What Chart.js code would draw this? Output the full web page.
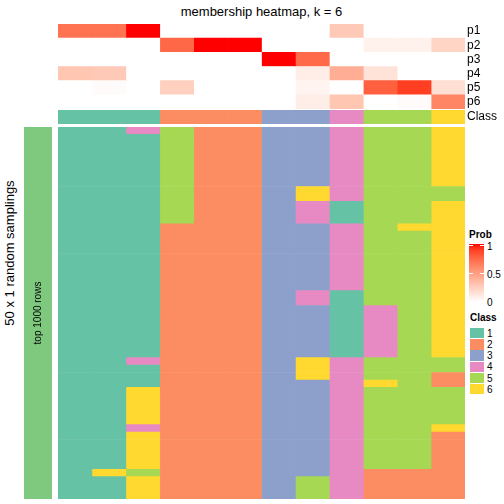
<!DOCTYPE html>
<html>
<head>
<meta charset="utf-8">
<script src="https://cdn.jsdelivr.net/npm/chart.js@4"></script>
<style>
  html, body { margin:0; padding:0; background:#fff; }
  #wrap { position:relative; width:504px; height:504px; background:#fff; overflow:hidden;
          font-family:'Liberation Sans', Arial, Helvetica, sans-serif; color:#000; }
  canvas { position:absolute; }
  .txt { position:absolute; white-space:nowrap; }
</style>
</head>
<body>
<div id="wrap">
  <canvas id="probChart" width="446" height="85" style="left:58px;top:24px;"></canvas>
  <canvas id="classChart" width="446" height="14" style="left:58px;top:110px;"></canvas>
  <canvas id="rowAnno" width="28" height="372" style="left:24px;top:127px;"></canvas>
  <canvas id="mainChart" width="407" height="372" style="left:58px;top:127px;"></canvas>
</div>
<script>
// ---------------- DATA ----------------
const chartTitle = 'membership heatmap, k = 6';
const probRowLabels = ['p1', 'p2', 'p3', 'p4', 'p5', 'p6'];
// membership probabilities for the 12 consensus columns
const p1 = [0.70, 0.70, 1.00, 0, 0, 0, 0, 0, 0.28, 0, 0, 0];
const p2 = [0, 0, 0, 0.75, 1.00, 1.00, 0, 0, 0, 0.07, 0.07, 0.22];
const p3 = [0, 0, 0, 0, 0, 0, 1.00, 0.74, 0, 0, 0, 0];
const p4 = [0.30, 0.28, 0, 0, 0, 0, 0, 0.09, 0.42, 0.15, 0, 0];
const p5 = [0, 0.02, 0, 0.25, 0, 0, 0, 0.06, 0, 0.78, 0.90, 0.17];
const p6 = [0, 0, 0, 0, 0, 0, 0, 0.09, 0.30, 0, 0.02, 0.62];
const consensusClass = [1, 1, 1, 2, 2, 2, 3, 3, 4, 5, 5, 6];
const classLabels = ['1', '2', '3', '4', '5', '6'];
const rowGroupLabel = 'top 1000 rows';
const sideTitle = '50 x 1 random samplings';
const probTicks = [1, 0.5, 0];
// class assigned in each of the 50 samplings (rows) for the 12 columns
const samplingClasses = [
  [1,1,4,5,2,2,3,3,4,5,5,6],
  [1,1,1,5,2,2,3,3,4,5,5,6],
  [1,1,1,5,2,2,3,3,4,5,5,6],
  [1,1,1,5,2,2,3,3,4,5,5,6],
  [1,1,1,5,2,2,3,3,4,5,5,6],
  [1,1,1,5,2,2,3,3,4,5,5,6],
  [1,1,1,5,2,2,3,3,4,5,5,6],
  [1,1,1,5,2,2,3,3,4,5,5,6],
  [1,1,1,5,2,2,3,6,4,5,5,5],
  [1,1,1,5,2,2,3,6,4,5,5,5],
  [1,1,1,5,2,2,3,4,1,5,5,6],
  [1,1,1,5,2,2,3,4,1,5,5,6],
  [1,1,1,5,2,2,3,4,1,5,5,6],
  [1,1,1,2,2,2,3,3,4,5,6,6],
  [1,1,1,2,2,2,3,3,4,5,5,6],
  [1,1,1,2,2,2,3,3,4,5,5,6],
  [1,1,1,2,2,2,3,3,4,5,5,6],
  [1,1,1,2,2,2,3,3,4,5,5,6],
  [1,1,1,2,2,2,3,3,4,5,5,6],
  [1,1,1,2,2,2,3,3,4,5,5,6],
  [1,1,1,2,2,2,3,3,4,5,5,6],
  [1,1,1,2,2,2,3,3,4,5,5,6],
  [1,1,1,2,2,2,3,4,1,5,5,6],
  [1,1,1,2,2,2,3,4,1,5,5,6],
  [1,1,1,2,2,2,3,3,1,4,5,6],
  [1,1,1,2,2,2,3,3,1,4,5,6],
  [1,1,1,2,2,2,3,3,1,4,5,6],
  [1,1,1,2,2,2,3,3,1,4,5,6],
  [1,1,1,2,2,2,3,3,1,4,5,6],
  [1,1,1,2,2,2,3,3,1,4,5,6],
  [1,1,1,2,2,2,3,3,1,4,5,6],
  [1,1,4,2,2,2,3,6,4,5,5,5],
  [1,1,1,2,2,2,3,6,4,5,5,5],
  [1,1,1,2,2,2,3,6,4,5,5,2],
  [1,1,1,2,2,2,3,3,4,6,5,2],
  [1,1,6,2,2,2,3,3,4,5,5,5],
  [1,1,6,2,2,2,3,3,4,5,5,5],
  [1,1,6,2,2,2,3,3,4,5,5,5],
  [1,1,6,2,2,2,3,3,4,5,5,5],
  [1,1,6,2,2,2,3,3,4,5,5,5],
  [1,1,4,2,2,2,3,3,4,5,5,6],
  [1,1,6,2,2,2,3,3,4,5,5,2],
  [1,1,6,2,2,2,3,3,4,5,5,2],
  [1,1,6,2,2,2,3,3,4,5,5,2],
  [1,1,6,2,2,2,3,3,4,5,5,2],
  [1,1,6,2,2,2,3,3,4,5,5,2],
  [1,6,5,2,2,2,3,3,4,2,2,2],
  [1,1,6,2,2,2,3,5,4,2,2,2],
  [1,1,6,2,2,2,3,5,4,2,2,2],
  [1,1,6,2,2,2,3,5,4,2,2,2]
];

// ---------------- STYLE ----------------
const classColors = { 1:'#66C2A5', 2:'#FC8D62', 3:'#8DA0CB', 4:'#E78AC3', 5:'#A6D854', 6:'#FFD92F' };
const rowGroupColor = '#7FC97F';
const FONT = "'Liberation Sans', Arial, Helvetica, sans-serif";

// white -> red ramp interpolated in LAB space
function toLab(rgb) {
  const [r, g, b] = rgb.map(v => { v /= 255; return v <= 0.04045 ? v / 12.92 : Math.pow((v + 0.055) / 1.055, 2.4); });
  const X = (0.4124564*r + 0.3575761*g + 0.1804375*b) / 0.95047;
  const Y = (0.2126729*r + 0.7151522*g + 0.0721750*b);
  const Z = (0.0193339*r + 0.1191920*g + 0.9503041*b) / 1.08883;
  const f = t => t > 0.008856 ? Math.cbrt(t) : 7.787*t + 16/116;
  const fx = f(X), fy = f(Y), fz = f(Z);
  return [116*fy - 16, 500*(fx - fy), 200*(fy - fz)];
}
function fromLab([L, a, bb]) {
  const fy = (L + 16) / 116, fx = fy + a / 500, fz = fy - bb / 200;
  const inv = t => { const t3 = t*t*t; return t3 > 0.008856 ? t3 : (t - 16/116) / 7.787; };
  const X = inv(fx) * 0.95047, Y = inv(fy), Z = inv(fz) * 1.08883;
  const r = 3.2404542*X - 1.5371385*Y - 0.4985314*Z;
  const g = -0.9692660*X + 1.8760108*Y + 0.0415560*Z;
  const b = 0.0556434*X - 0.2040259*Y + 1.0572252*Z;
  const gam = v => { v = v <= 0.0031308 ? 12.92*v : 1.055*Math.pow(v, 1/2.4) - 0.055; return Math.round(Math.min(1, Math.max(0, v)) * 255); };
  return `rgb(${gam(r)},${gam(g)},${gam(b)})`;
}
const labWhite = toLab([255, 255, 255]), labRed = toLab([255, 0, 0]);
function ramp(t) {
  return fromLab(labWhite.map((w, i) => w + (labRed[i] - w) * t));
}

Chart.defaults.font.family = FONT;
Chart.defaults.color = '#000';

function heatConfig(rowLabels, colorOf, nCols, showAxis) {
  const datasets = [];
  for (let j = 0; j < nCols; j++) {
    datasets.push({
      data: rowLabels.map(() => 1),
      backgroundColor: rowLabels.map((_, i) => colorOf(i, j)),
      borderWidth: 0,
      categoryPercentage: 1,
      barPercentage: 1
    });
  }
  return {
    type: 'bar',
    data: { labels: rowLabels, datasets },
    options: {
      indexAxis: 'y', responsive: false, animation: false, events: [], devicePixelRatio: 1,
      layout: { padding: 0 },
      plugins: { legend: { display: false }, tooltip: { enabled: false }, title: { display: false } },
      scales: {
        x: { type: 'linear', stacked: true, min: 0, max: nCols, display: false },
        y: {
          stacked: true, position: 'right', display: showAxis,
          grid: { display: false, drawTicks: false }, border: { display: false },
          ticks: { padding: 2, font: { size: 12, family: FONT }, color: '#000', autoSkip: false },
          afterFit: s => {
            if (showAxis) s.width = 39; else s.width = 0;
            s.paddingTop = 0; s.paddingBottom = 0;
          }
        }
      }
    }
  };
}

const probRows = [p1, p2, p3, p4, p5, p6];
const nCols = consensusClass.length;

new Chart(document.getElementById('probChart'),
  heatConfig(probRowLabels, (i, j) => ramp(probRows[i][j]), nCols, true));

new Chart(document.getElementById('classChart'),
  heatConfig(['Class'], (i, j) => classColors[consensusClass[j]], nCols, true));

const samplingLabels = samplingClasses.map((_, i) => 'sampling ' + (i + 1));
new Chart(document.getElementById('mainChart'),
  heatConfig(samplingLabels, (i, j) => classColors[samplingClasses[i][j]], nCols, false));

new Chart(document.getElementById('rowAnno'),
  heatConfig([rowGroupLabel], () => rowGroupColor, 1, false));

// ---------------- TEXT & LEGENDS ----------------
const wrap = document.getElementById('wrap');
function addText(text, css) {
  const d = document.createElement('div');
  d.className = 'txt';
  d.textContent = text;
  Object.assign(d.style, css);
  wrap.appendChild(d);
  return d;
}
addText(chartTitle, { left: '58px', width: '407px', top: '4px', textAlign: 'center', fontSize: '13px', lineHeight: '16px' });
addText(sideTitle, { left: '-90px', width: '200px', top: '245px', height: '16px', textAlign: 'center',
  fontSize: '13px', lineHeight: '16px', transform: 'rotate(-90deg)' });
addText(rowGroupLabel, { left: '-12px', width: '100px', top: '307px', height: '12px', textAlign: 'center',
  fontSize: '10px', lineHeight: '12px', transform: 'rotate(-90deg)' });

// Prob legend
addText('Prob', { left: '469px', top: '229px', fontSize: '10px', lineHeight: '12px', fontWeight: 'bold' });
const bar = document.createElement('div');
const stops = [];
for (let k = 0; k <= 20; k++) stops.push(ramp(1 - k / 20) + ' ' + (k * 5) + '%');
Object.assign(bar.style, { position: 'absolute', left: '469px', top: '244px', width: '15px', height: '58px',
  background: 'linear-gradient(to bottom, ' + stops.join(',') + ')' });
wrap.appendChild(bar);
probTicks.forEach(v => {
  const y = 245 + (1 - v) * 56;
  [469, 480].forEach(x => {
    const m = document.createElement('div');
    Object.assign(m.style, { position: 'absolute', left: x + 'px', top: (y - 0.5) + 'px', width: '4px', height: '1px', background: '#fff' });
    wrap.appendChild(m);
  });
  addText(String(v), { left: '487px', top: (y - 4) + 'px', fontSize: '10px', lineHeight: '12px' });
});

// Class legend
addText('Class', { left: '470px', top: '312px', fontSize: '10px', lineHeight: '12px', fontWeight: 'bold' });
classLabels.forEach((lab, i) => {
  const top = 328 + i * 11.2;
  const sw = document.createElement('div');
  Object.assign(sw.style, { position: 'absolute', left: '470px', top: top + 'px', width: '14px', height: '10.4px',
    background: classColors[lab] });
  wrap.appendChild(sw);
  addText(lab, { left: '487px', top: (top - 0.3) + 'px', fontSize: '10px', lineHeight: '11.2px' });
});
</script>
</body>
</html>
